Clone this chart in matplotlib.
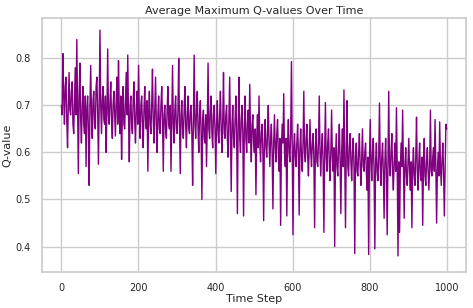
import matplotlib
matplotlib.use("Agg")
import matplotlib.pyplot as plt
import numpy as np
import seaborn as sns

# average max Q-value, every ~2 steps (one row = 100 steps)
q_values = [
    0.70, 0.68, 0.81, 0.72, 0.66, 0.74, 0.76, 0.67, 0.61, 0.70, 0.77, 0.69, 0.68, 0.73, 0.75, 0.66, 0.64,
    0.71, 0.78, 0.68, 0.84, 0.70, 0.555, 0.72, 0.79, 0.67, 0.62, 0.70, 0.74, 0.66, 0.64, 0.72, 0.57,
    0.69, 0.72, 0.65, 0.53, 0.70, 0.785, 0.68, 0.63, 0.71, 0.73, 0.66, 0.65, 0.74, 0.76, 0.69, 0.575, 0.70,
    0.86, 0.70, 0.64, 0.71, 0.74, 0.67, 0.66, 0.72, 0.60, 0.69, 0.82, 0.68, 0.66, 0.71, 0.75, 0.67, 0.63,
    0.70, 0.73, 0.68, 0.635, 0.71, 0.76, 0.66, 0.795, 0.69, 0.64, 0.72, 0.585, 0.68, 0.74, 0.66, 0.65,
    0.71, 0.77, 0.68, 0.807, 0.67, 0.58, 0.70, 0.72, 0.66, 0.64, 0.71, 0.75, 0.67, 0.62, 0.69, 0.73, 0.66,
    0.785, 0.68, 0.63, 0.70, 0.72, 0.66, 0.61, 0.69, 0.74, 0.67, 0.65, 0.71, 0.56, 0.68, 0.73, 0.66, 0.64,
    0.70, 0.777, 0.67, 0.62, 0.69, 0.76, 0.66, 0.60, 0.68, 0.72, 0.65, 0.64, 0.70, 0.74, 0.67, 0.56,
    0.68, 0.70, 0.65, 0.63, 0.69, 0.74, 0.66, 0.65, 0.70, 0.56, 0.67, 0.785, 0.66, 0.62, 0.69, 0.72, 0.65,
    0.64, 0.69, 0.80, 0.66, 0.555, 0.68, 0.71, 0.65, 0.63, 0.69, 0.74, 0.66, 0.61, 0.68, 0.72, 0.65, 0.64,
    0.69, 0.70, 0.64, 0.53, 0.67, 0.807, 0.66, 0.63, 0.69, 0.73, 0.65, 0.60, 0.68, 0.71, 0.64, 0.50,
    0.67, 0.69, 0.63, 0.62, 0.68, 0.57, 0.66, 0.79, 0.65, 0.63, 0.69, 0.72, 0.64, 0.61, 0.68, 0.70, 0.65,
    0.555, 0.66, 0.71, 0.64, 0.62, 0.68, 0.73, 0.65, 0.60, 0.67, 0.77, 0.64, 0.63, 0.68, 0.70, 0.63, 0.59,
    0.67, 0.76, 0.64, 0.517, 0.66, 0.70, 0.63, 0.61, 0.67, 0.72, 0.64, 0.47, 0.66, 0.76, 0.63, 0.60,
    0.67, 0.70, 0.64, 0.465, 0.65, 0.72, 0.63, 0.60, 0.66, 0.69, 0.62, 0.745, 0.64, 0.58, 0.66, 0.68, 0.62,
    0.60, 0.65, 0.51, 0.63, 0.68, 0.61, 0.72, 0.62, 0.58, 0.64, 0.66, 0.60, 0.455, 0.63, 0.67, 0.61, 0.59,
    0.64, 0.70, 0.62, 0.57, 0.63, 0.66, 0.60, 0.48, 0.62, 0.68, 0.61, 0.58, 0.64, 0.67, 0.60, 0.56,
    0.63, 0.445, 0.61, 0.66, 0.62, 0.725, 0.60, 0.57, 0.63, 0.465, 0.62, 0.67, 0.60, 0.58, 0.64, 0.793, 0.61,
    0.425, 0.61, 0.64, 0.59, 0.57, 0.62, 0.66, 0.60, 0.467, 0.61, 0.65, 0.59, 0.56, 0.62, 0.73, 0.60, 0.58,
    0.63, 0.66, 0.59, 0.55, 0.61, 0.67, 0.60, 0.57, 0.62, 0.64, 0.59, 0.44, 0.61, 0.65, 0.58, 0.57,
    0.62, 0.72, 0.60, 0.55, 0.61, 0.64, 0.58, 0.43, 0.60, 0.706, 0.59, 0.56, 0.62, 0.65, 0.58, 0.54, 0.60,
    0.69, 0.59, 0.56, 0.61, 0.40, 0.58, 0.64, 0.57, 0.55, 0.61, 0.66, 0.58, 0.47, 0.60, 0.65, 0.57, 0.733,
    0.59, 0.44, 0.60, 0.71, 0.57, 0.55, 0.61, 0.64, 0.58, 0.54, 0.60, 0.63, 0.57, 0.385, 0.59, 0.62,
    0.56, 0.55, 0.60, 0.64, 0.57, 0.53, 0.59, 0.65, 0.57, 0.56, 0.60, 0.62, 0.56, 0.52, 0.59, 0.383, 0.58,
    0.67, 0.58, 0.54, 0.60, 0.63, 0.56, 0.395, 0.58, 0.62, 0.56, 0.54, 0.59, 0.705, 0.57, 0.53, 0.59, 0.62,
    0.56, 0.46, 0.58, 0.63, 0.56, 0.425, 0.58, 0.73, 0.57, 0.55, 0.60, 0.64, 0.56, 0.52, 0.58, 0.62,
    0.56, 0.695, 0.57, 0.38, 0.58, 0.43, 0.56, 0.62, 0.57, 0.69, 0.58, 0.46, 0.57, 0.61, 0.55, 0.53, 0.58,
    0.63, 0.56, 0.52, 0.58, 0.44, 0.57, 0.61, 0.55, 0.53, 0.59, 0.675, 0.56, 0.52, 0.58, 0.62, 0.55, 0.54,
    0.59, 0.445, 0.57, 0.63, 0.55, 0.53, 0.58, 0.61, 0.56, 0.52, 0.57, 0.69, 0.56, 0.55, 0.59, 0.61,
    0.56, 0.67, 0.57, 0.45, 0.56, 0.60, 0.55, 0.665, 0.57, 0.53, 0.58, 0.62, 0.56, 0.465, 0.57, 0.66, 0.65,
]
steps = np.linspace(0, 999, len(q_values))

sns.set_theme(style="whitegrid")
plt.rcParams['font.family'] = ['DejaVu Sans']

fig, ax = plt.subplots(figsize=(4.73, 3.08), dpi=100)
ax.plot(steps, q_values, color='purple', linewidth=1.0)

ax.set_ylim(0.346, 0.886)
ax.set_title("Average Maximum Q-values Over Time", fontsize=8, pad=3)
ax.set_xlabel("Time Step", fontsize=8, labelpad=1)
ax.set_ylabel("Q-value", fontsize=8, labelpad=2)
ax.tick_params(labelsize=7, pad=2)

plt.subplots_adjust(left=0.089, right=0.985, top=0.942, bottom=0.117)
plt.savefig("out.png", dpi=100)
